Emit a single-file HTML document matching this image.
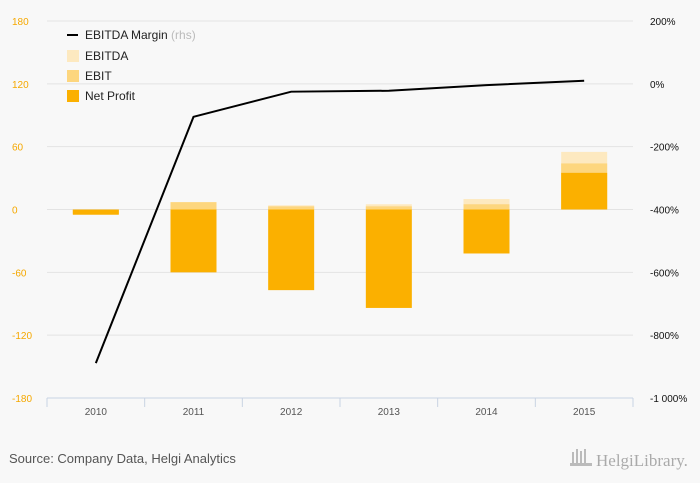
<!DOCTYPE html>
<html><head><meta charset="utf-8"><style>
body{margin:0;background:#f8f8f8;}
svg{display:block;font-family:"Liberation Sans",sans-serif;}
</style></head><body>
<svg id="c" width="700" height="483" xmlns="http://www.w3.org/2000/svg">
<rect width="700" height="483" fill="#f8f8f8"/>
<g id="grid"></g><g id="bars"></g><g id="line"></g><g id="axes"></g>
<g font-size="12" fill="#222">
<line x1="67" y1="35" x2="78" y2="35" stroke="#000" stroke-width="2"/>
<text x="85" y="39">EBITDA Margin <tspan fill="#bbb">(rhs)</tspan></text>
<rect x="67" y="50" width="12" height="12" fill="#fde9c0"/>
<text x="85" y="60">EBITDA</text>
<rect x="67" y="70" width="12" height="12" fill="#fdd67e"/>
<text x="85" y="80">EBIT</text>
<rect x="67" y="90" width="12" height="12" fill="#fbb000"/>
<text x="85" y="100">Net Profit</text>
</g>
<text x="9" y="463" font-size="13" fill="#555">Source: Company Data, Helgi Analytics</text>
<text x="596" y="466" font-size="17" fill="#aaa" font-family="Liberation Serif,serif">HelgiLibrary.</text>
<g fill="#bbb"><rect x="572" y="452" width="2" height="12"/><rect x="576" y="449" width="2" height="15"/><rect x="580" y="451" width="2" height="13"/><rect x="584" y="449" width="2" height="15"/><rect x="570" y="463" width="22" height="3"/></g>
</svg>
<script>
const categories=["2010","2011","2012","2013","2014","2015"];
const ebitda=[-4,7,4,5,10,55];
const ebit=[-4,7,3,3,5,44];
const netProfit=[-5,-60,-77,-94,-42,35];
const margin=[-889,-105,-25,-22,-4,10];
const leftTicks=[180,120,60,0,-60,-120,-180];
const rightTicks=["200%","0%","-200%","-400%","-600%","-800%","-1 000%"];
const rightVals=[200,0,-200,-400,-600,-800,-1000];
const NS="http://www.w3.org/2000/svg";
const X0=47,X1=633,YT=21,YB=398;
const yL=v=>YT+(180-v)/360*(YB-YT);
const yR=v=>YT+(200-v)/1200*(YB-YT);
const step=(X1-X0)/categories.length;
const xC=i=>X0+step*(i+0.5);
function mk(tag,attrs,parent){const e=document.createElementNS(NS,tag);for(const k in attrs)e.setAttribute(k,attrs[k]);document.getElementById(parent).appendChild(e);return e;}
leftTicks.forEach((t,i)=>{
  const y=yL(t);
  if(i<leftTicks.length-1){const g=mk('line',{x1:X0,x2:X1,y1:y,y2:y,stroke:'#e3e3e3'},'grid');
  
  }
  const l=mk('text',{x:12,y:y+4,'font-size':10,fill:'#f5a800'},'axes');l.textContent=t;
  
  
});
rightVals.forEach((v,i)=>{
  const r=mk('text',{x:650,y:yR(v)+4,'font-size':10,fill:'#111'},'axes');r.textContent=rightTicks[i];
  
  
});
const ax=mk('line',{x1:X0,x2:X1,y1:YB,y2:YB,stroke:'#c9d3e3'},'axes');


for(let i=0;i<=categories.length;i++){const t=mk('line',{x1:X0+step*i,x2:X0+step*i,y1:YB,y2:YB+9,stroke:'#c9d3e3'},'axes');

}
categories.forEach((c,i)=>{
  const t=mk('text',{x:xC(i),y:YB+17,'font-size':10,fill:'#555','text-anchor':'middle'},'axes');t.textContent=c;
  
  
  [[ebitda,'#fde9c0','bar-ebitda'],[ebit,'#fdd67e','bar-ebit'],[netProfit,'#fbb000','bar-net-profit']].forEach(([arr,col,nm])=>{
    const v=arr[i],y0=yL(0),y1=yL(v);
    const b=mk('rect',{x:xC(i)-23,width:46,y:Math.min(y0,y1),height:Math.abs(y1-y0),fill:col},'bars');
    
    
  });
});
const pl=mk('polyline',{points:margin.map((v,i)=>xC(i)+','+yR(v)).join(' '),fill:'none',stroke:'#000','stroke-width':2},'line');


</script>
</body></html>
